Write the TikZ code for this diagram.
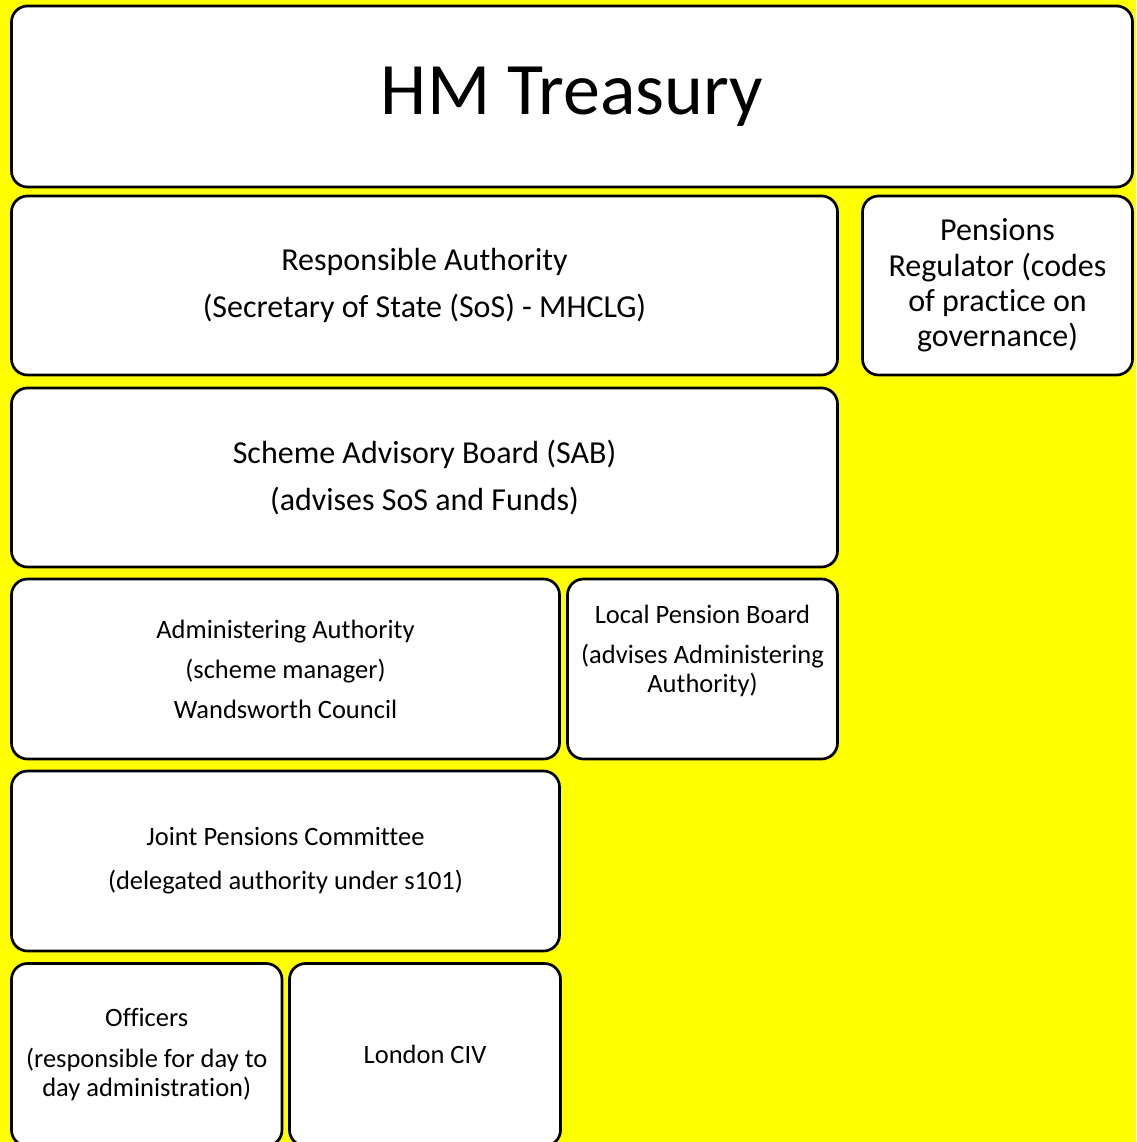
\documentclass[tikz,border=0pt]{standalone}
\usepackage{fontspec}
\setmainfont{Carlito}[Ligatures=NoCommon]
\definecolor{canvas}{RGB}{255,255,0}
\newcommand\hugelabel{\fontsize{74}{89}\selectfont}
\newcommand\midlabel{\fontsize{32}{35.2}\selectfont}
\newcommand\smalllabel{\fontsize{26.5}{29.1}\selectfont}
\begin{document}
\begin{tikzpicture}[x=1pt, y=-1pt,
  box/.style={draw=black, line width=2.7pt, fill=white, rounded corners=16pt,
    align=center, inner sep=0pt, outer sep=0pt, text=black},
  bigbox/.style={box, font=\midlabel},
  smallbox/.style={box, font=\smalllabel}]
  \useasboundingbox (0,0) rectangle (1136,1142);
  \clip (0,0) rectangle (1136,1142);
  \fill[canvas] (0,0) rectangle (1136,1142);

  % top level
  \node[box, font=\hugelabel, minimum width=1121pt, minimum height=181pt]
    (treasury) at (572,96.5) {HM Treasury};

  % second row
  \node[bigbox, minimum width=826pt, minimum height=179pt]
    (resp) at (424.5,285.5) {Responsible Authority\\[11pt](Secretary of State (SoS) - MHCLG)};
  \node[bigbox, minimum width=270pt, minimum height=179pt]
    (regulator) at (997.5,285.5) {Pensions\\Regulator (codes\\of practice on\\governance)};

  % advisory board
  \node[bigbox, minimum width=826pt, minimum height=179pt]
    (sab) at (424.5,477.5) {Scheme Advisory Board (SAB)\\[11pt](advises SoS and Funds)};

  % administering authority and local board
  \node[smallbox, minimum width=548pt, minimum height=180pt]
    (admin) at (285.5,669) {Administering Authority\\[11pt](scheme manager)\\[11pt]Wandsworth Council};
  \node[smallbox, minimum width=270pt, minimum height=180pt]
    (lpb) at (702.5,669) {Local Pension Board\\[11pt](advises Administering\\Authority)\\[11pt]\mbox{}};

  % committee
  \node[smallbox, minimum width=548pt, minimum height=180pt]
    (jpc) at (285.5,861) {Joint Pensions Committee\\[15pt](delegated authority under s101)};

  % bottom row
  \node[smallbox, minimum width=270.5pt, minimum height=182.5pt]
    (officers) at (146.75,1054.75) {Officers\\[12pt](responsible for day to\\day administration)};
  \node[smallbox, minimum width=271pt, minimum height=182.5pt]
    (civ) at (425,1054.75) {London CIV};
\end{tikzpicture}
\end{document}
